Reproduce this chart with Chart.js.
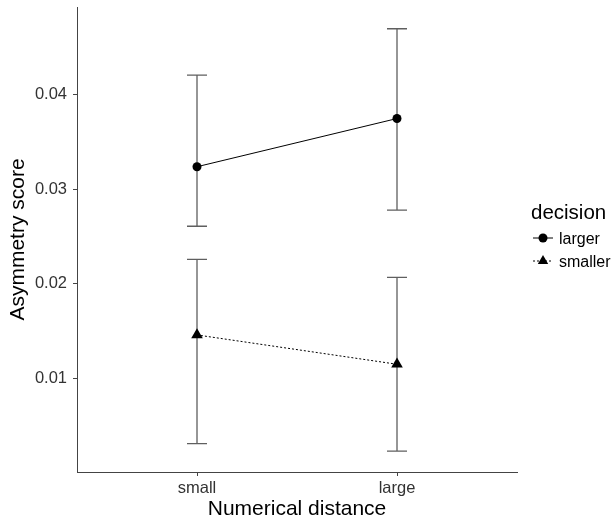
<!DOCTYPE html>
<html>
<head>
<meta charset="utf-8">
<script src="https://cdn.jsdelivr.net/npm/chart.js@4.4.0/dist/chart.umd.min.js"></script>
<style>
  html, body { margin: 0; padding: 0; background: #fff; }
  #wrap { width: 613px; height: 522px; }
</style>
</head>
<body>
<div id="wrap"><canvas id="c" width="613" height="522"></canvas></div>
<script>
// Asymmetry score by numerical distance, split by decision (mean with error bars)
const categories = ['small', 'large'];
const seriesNames = ['larger', 'smaller'];
const largerMean = [0.0324, 0.0375];
const largerLow = [0.0261, 0.0278];
const largerHigh = [0.0421, 0.0470];
const smallerMean = [0.0146, 0.0115];
const smallerLow = [0.0031, 0.0023];
const smallerHigh = [0.0226, 0.0207];
const yTicks = [0.01, 0.02, 0.03, 0.04];
const legendTitle = 'decision';

const FONT = '"Liberation Sans", Arial, Helvetica, sans-serif';

const toPoints = arr => arr.map((v, i) => ({ x: i + 1, y: v }));

// vertical whiskers with caps, drawn under the lines and markers
const errorBars = {
  id: 'errorBars',
  beforeDatasetsDraw(chart) {
    const { ctx, scales: { x, y } } = chart;
    ctx.save();
    ctx.strokeStyle = '#5f5f5f';
    ctx.lineWidth = 1.3;
    chart.data.datasets.forEach(ds => {
      ds.errLow.forEach((lo, i) => {
        const cx = x.getPixelForValue(i + 1);
        const half = x.getPixelForValue(i + 1.05) - cx;
        const yl = y.getPixelForValue(lo);
        const yh = y.getPixelForValue(ds.errHigh[i]);
        ctx.beginPath();
        ctx.moveTo(cx, yl); ctx.lineTo(cx, yh);
        ctx.moveTo(cx - half, yl); ctx.lineTo(cx + half, yl);
        ctx.moveTo(cx - half, yh); ctx.lineTo(cx + half, yh);
        ctx.stroke();
      });
    });
    ctx.restore();
  }
};

// legend at the right: title plus a line-and-marker key per series
const sideLegend = {
  id: 'sideLegend',
  afterDraw(chart) {
    const { ctx } = chart;
    ctx.save();
    ctx.fillStyle = '#000';
    ctx.textAlign = 'left';
    ctx.textBaseline = 'alphabetic';
    ctx.font = '20.5px ' + FONT;
    ctx.fillText(legendTitle, 531, 219);
    const rows = [238, 261];
    chart.data.datasets.forEach((ds, i) => {
      const yy = rows[i];
      ctx.strokeStyle = '#000';
      ctx.lineWidth = 1;
      ctx.setLineDash(ds.borderDash || []);
      ctx.beginPath();
      ctx.moveTo(533, yy); ctx.lineTo(553, yy);
      ctx.stroke();
      ctx.setLineDash([]);
      ctx.fillStyle = '#000';
      Chart.helpers.drawPoint(ctx, {
        pointStyle: ds.pointStyle,
        radius: ds.pointStyle === 'triangle' ? 6 : 4.5,
        rotation: 0,
        borderWidth: 0
      }, 543, yy);
      ctx.fillStyle = '#000';
      ctx.font = '16px ' + FONT;
      ctx.fillText(ds.label, 559, yy + 5.5);
    });
    ctx.restore();
  }
};

new Chart(document.getElementById('c'), {
  type: 'line',
  data: {
    datasets: [
      {
        label: seriesNames[0],
        data: toPoints(largerMean),
        errLow: largerLow,
        errHigh: largerHigh,
        borderColor: '#000',
        backgroundColor: '#000',
        borderWidth: 1,
        pointStyle: 'circle',
        pointRadius: 4.5,
        pointBorderWidth: 0,
        pointBackgroundColor: '#000'
      },
      {
        label: seriesNames[1],
        data: toPoints(smallerMean),
        errLow: smallerLow,
        errHigh: smallerHigh,
        borderColor: '#000',
        backgroundColor: '#000',
        borderWidth: 1,
        borderDash: [2, 2],
        pointStyle: 'triangle',
        pointRadius: 6.7,
        pointBorderWidth: 0,
        pointBackgroundColor: '#000'
      }
    ]
  },
  options: {
    responsive: false,
    animation: false,
    layout: { padding: { top: 7, right: 96, left: 0, bottom: 0 } },
    plugins: { legend: { display: false }, tooltip: { enabled: false } },
    scales: {
      x: {
        type: 'linear',
        min: 0.4,
        max: 2.6,
        afterBuildTicks: s => { s.ticks = categories.map((_, i) => ({ value: i + 1 })); },
        afterFit: s => { s.height = 50; s.paddingLeft = 0; s.paddingRight = 0; },
        ticks: {
          callback: v => categories[Math.round(v) - 1] ?? '',
          color: '#333',
          font: { family: FONT, size: 16.5 },
          padding: 3,
          maxRotation: 0,
          autoSkip: false
        },
        grid: { display: true, drawOnChartArea: false, drawTicks: true, tickLength: 4, tickColor: '#444', tickWidth: 1 },
        border: { display: true, color: '#444', width: 1 },
        title: { display: true, text: 'Numerical distance', color: '#000', font: { family: FONT, size: 21 }, padding: { top: 0, bottom: 0 } }
      },
      y: {
        min: 0.0001,
        max: 0.0493,
        afterBuildTicks: s => { s.ticks = yTicks.map(v => ({ value: v })); },
        afterFit: s => { s.width = 77; s.paddingTop = 0; s.paddingBottom = 0; },
        ticks: {
          callback: v => v.toFixed(2),
          color: '#333',
          font: { family: FONT, size: 16.5 },
          padding: 6
        },
        grid: { display: true, drawOnChartArea: false, drawTicks: true, tickLength: 4, tickColor: '#444', tickWidth: 1 },
        border: { display: true, color: '#444', width: 1 },
        title: { display: true, text: 'Asymmetry score', color: '#000', font: { family: FONT, size: 21 }, padding: { top: 6, bottom: 0 } }
      }
    }
  },
  plugins: [errorBars, sideLegend]
});
</script>
</body>
</html>
